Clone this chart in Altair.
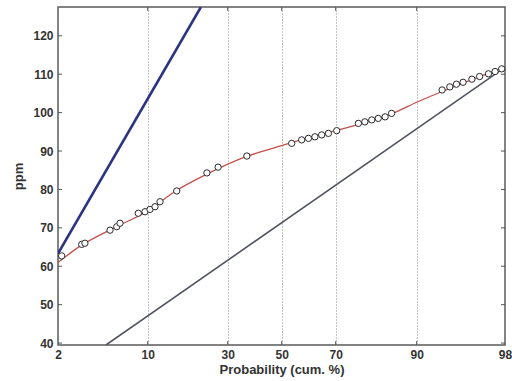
import altair as alt
import pandas as pd

# ---- data ----
obs_p = [2.33, 4.11, 4.4, 6.64, 7.24, 7.53, 9.16, 9.76, 10.58, 11.83, 13.08, 17.25,
         24.8, 27.6, 37.1, 53.7, 57.4, 59.9, 62.3, 64.8, 67.3, 70.25, 75.6, 77.2,
         78.9, 80.5, 82.2, 83.8, 92.3, 93.0, 93.6, 94.2, 95.0, 95.7, 96.5, 97.1, 97.7]
obs_v = [62.7, 65.7, 66.0, 69.4, 70.3, 71.2, 73.8, 74.2, 74.8, 75.5, 76.8, 79.6,
         84.3, 85.8, 88.7, 92.0, 92.9, 93.3, 93.7, 94.2, 94.6, 95.3, 97.2, 97.6,
         98.1, 98.5, 98.9, 99.8, 105.9, 106.7, 107.4, 107.9, 108.7, 109.4, 110.1, 110.7, 111.4]

fit_p = [2, 4, 7, 10, 17, 25, 37, 50, 60, 70, 80, 84, 90, 92.3, 95, 98]
fit_v = [61.0, 65.3, 70.0, 74.4, 79.6, 84.1, 88.6, 91.4, 93.5, 95.3, 98.3, 99.8, 102.7, 105.5, 108.6, 111.9]

blue_p = [2, 23.3]
blue_v = [63.3, 127.5]

gray_p = [6.28, 97.7]
gray_v = [39.5, 111.2]

x_ticks = [2, 10, 30, 50, 70, 90, 98]
y_ticks = [40, 50, 60, 70, 80, 90, 100, 110, 120]

# ---- layout (plot area in pixels) ----
W, H = 447, 338
x_scale = alt.Scale(domain=x_ticks, range=[0, 89.7, 169.7, 223.7, 277.7, 358.7, W],
                    nice=False, zero=False)
y_scale = alt.Scale(domain=[39.5, 127.5], nice=False, zero=False)

FONT = "Liberation Sans"

obs = pd.DataFrame({"p": obs_p, "v": obs_v})
fit = pd.DataFrame({"p": fit_p, "v": fit_v})
blue = pd.DataFrame({"p": blue_p, "v": blue_v})
gray = pd.DataFrame({"p": gray_p, "v": gray_v})
xt = pd.DataFrame({"p": x_ticks[1:-1]})
yt = pd.DataFrame({"v": y_ticks})

x_axis = alt.Axis(values=x_ticks, title="Probability (cum. %)", grid=True,
                  gridDash=[1, 2], gridColor="#8a8a8a", gridWidth=1,
                  ticks=False, domain=False, labelPadding=4,
                  labelFont=FONT, labelFontSize=12, labelFontWeight="bold", labelColor="#333",
                  titleFont=FONT, titleFontSize=13, titleFontWeight="bold", titleColor="#333",
                  titlePadding=3, labelFlush=False, labelOverlap=False)
y_axis = alt.Axis(values=y_ticks, title="ppm", grid=False, ticks=False, domain=False,
                  labelPadding=5, labelFont=FONT, labelFontSize=12, labelFontWeight="bold",
                  labelColor="#333", titleFont=FONT, titleFontSize=13, titleFontWeight="bold",
                  titleColor="#333", titlePadding=7, labelFlush=False)

base_x = alt.X("p:Q", scale=x_scale, axis=x_axis)
base_y = alt.Y("v:Q", scale=y_scale, axis=y_axis)

gray_line = alt.Chart(gray).mark_line(color="#50545e", strokeWidth=1.6, clip=True).encode(
    x=base_x, y=base_y)
blue_line = alt.Chart(blue).mark_line(color="#2c3482", strokeWidth=2.6, clip=True).encode(
    x=alt.X("p:Q", scale=x_scale), y=alt.Y("v:Q", scale=y_scale))
fit_line = alt.Chart(fit).mark_line(color="#c4504c", strokeWidth=1.3, interpolate="monotone").encode(
    x=alt.X("p:Q", scale=x_scale), y=alt.Y("v:Q", scale=y_scale))
pts = alt.Chart(obs).mark_point(shape="circle", size=40, filled=False, fill="white",
                                fillOpacity=1, stroke="#2a2a2a", strokeWidth=1, opacity=1).encode(
    x=alt.X("p:Q", scale=x_scale), y=alt.Y("v:Q", scale=y_scale))

tick_color = "#555"
xt_bottom = alt.Chart(xt).mark_rule(color=tick_color, strokeWidth=1).encode(
    x=alt.X("p:Q", scale=x_scale), y=alt.value(H), y2=alt.value(H - 4))
xt_top = alt.Chart(xt).mark_rule(color=tick_color, strokeWidth=1).encode(
    x=alt.X("p:Q", scale=x_scale), y=alt.value(0), y2=alt.value(4))
yt_left = alt.Chart(yt).mark_rule(color=tick_color, strokeWidth=1).encode(
    y=alt.Y("v:Q", scale=y_scale), x=alt.value(0), x2=alt.value(4))
yt_right = alt.Chart(yt).mark_rule(color=tick_color, strokeWidth=1).encode(
    y=alt.Y("v:Q", scale=y_scale), x=alt.value(W - 4), x2=alt.value(W))

chart = alt.layer(gray_line, blue_line, fit_line, pts,
                  xt_bottom, xt_top, yt_left, yt_right).properties(
    width=W, height=H,
    autosize=alt.AutoSizeParams(type="none"),
    padding={"left": 58, "top": 7, "right": 7, "bottom": 36},
    background="white",
).configure_view(stroke="#5a5a5a", strokeWidth=1.5)

chart.save("out.html", embed_options={"renderer": "svg", "actions": False})
